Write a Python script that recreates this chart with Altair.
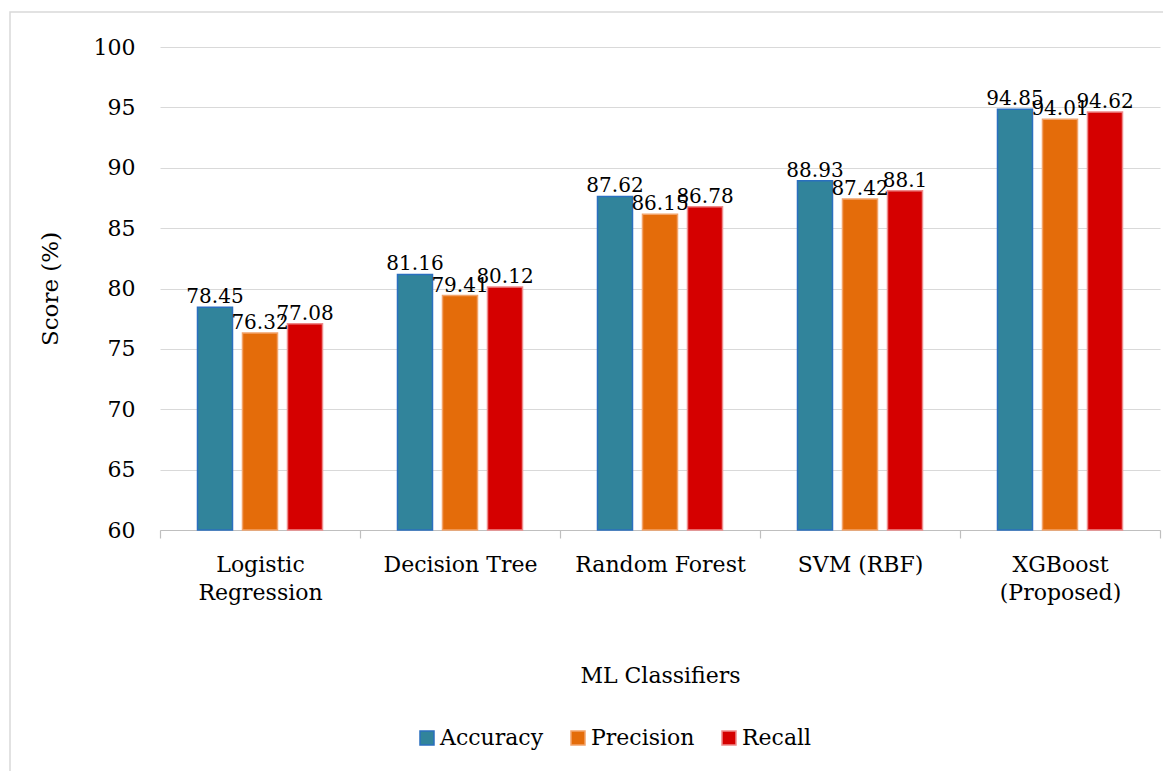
import altair as alt
import pandas as pd

classifiers = ["Logistic|Regression", "Decision Tree", "Random Forest", "SVM (RBF)", "XGBoost|(Proposed)"]
series = ["Accuracy", "Precision", "Recall"]
accuracy = [78.45, 81.16, 87.62, 88.93, 94.85]
precision = [76.32, 79.41, 86.15, 87.42, 94.01]
recall = [77.08, 80.12, 86.78, 88.1, 94.62]

fill_colors = ["#31849B", "#E46C0A", "#D50000"]
stroke_colors = ["#2A6FBF", "#F2A36A", "#EE8A8A"]

rows = []
for i, c in enumerate(classifiers):
    for s, vals in zip(series, [accuracy, precision, recall]):
        rows.append({"classifier": c, "series": s, "value": vals[i], "label": str(vals[i])})
df = pd.DataFrame(rows)

FONT = "DejaVu Serif"

x_enc = alt.X(
    "classifier:N",
    sort=classifiers,
    scale=alt.Scale(paddingInner=0, paddingOuter=0),
    axis=alt.Axis(
        title="ML Classifiers",
        labelAngle=0,
        labelExpr="isValid(datum.value) ? split(datum.value, '|') : ''",
        labelFontSize=22,
        labelLineHeight=28,
        labelPadding=16,
        labelColor="#000000",
        tickBand="extent",
        ticks=True,
        tickSize=8,
        tickColor="#BFBFBF",
        tickWidth=1.2,
        domainColor="#BFBFBF",
        domainWidth=1.2,
        grid=False,
        titleFontSize=22,
        titleFontWeight="normal",
        titleColor="#000000",
        titleY=145,
        titleBaseline="middle",
    ),
)
xoff_enc = alt.XOffset(
    "series:N",
    sort=series,
    scale=alt.Scale(domain=series, paddingInner=0.222, paddingOuter=0.833),
)
y_enc = alt.Y(
    "value:Q",
    stack=None,
    scale=alt.Scale(domain=[60, 100], zero=False, nice=False),
    axis=alt.Axis(
        title="Score (%)",
        values=[60, 65, 70, 75, 80, 85, 90, 95, 100],
        labelFontSize=22,
        labelPadding=25,
        labelColor="#000000",
        ticks=False,
        domain=False,
        grid=True,
        gridColor="#D9D9D9",
        gridWidth=1.2,
        titleFontSize=23,
        titleFontWeight="normal",
        titleColor="#000000",
        titleX=-110,
        titleY=241.5,
        titleBaseline="middle",
        titleAngle=270,
    ),
)

legend_cfg = dict(
    title=None,
    orient="none",
    direction="horizontal",
    legendX=256,
    legendY=680,
    symbolType="square",
    symbolSize=196,
    symbolStrokeWidth=1.5,
    labelFontSize=22,
    labelColor="#000000",
    labelOffset=2,
    columnPadding=23,
)

border = alt.Chart(pd.DataFrame({"a": [0]})).mark_rect(
    fillOpacity=0, stroke="#D9D9D9", strokeWidth=1.5
).encode(
    x=alt.value(-150), x2=alt.value(1010), y=alt.value(-35), y2=alt.value(740)
)

bars = alt.Chart(df).mark_bar(strokeWidth=1.5).encode(
    x=x_enc,
    xOffset=xoff_enc,
    y=y_enc,
    y2=alt.datum(60),
    fill=alt.Fill(
        "series:N",
        sort=series,
        scale=alt.Scale(domain=series, range=fill_colors),
        legend=alt.Legend(**legend_cfg),
    ),
    stroke=alt.Stroke(
        "series:N",
        sort=series,
        scale=alt.Scale(domain=series, range=stroke_colors),
        legend=alt.Legend(**legend_cfg),
    ),
)

text = alt.Chart(df).mark_text(
    fontSize=20, dy=-4, baseline="alphabetic", align="center", color="#000000"
).encode(
    x=alt.X("classifier:N", sort=classifiers),
    xOffset=alt.XOffset("series:N", sort=series),
    y=alt.Y("value:Q"),
    text="label:N",
)

chart = alt.layer(border, bars, text).properties(
    width=1000,
    height=483,
    autosize=alt.AutoSizeParams(type="none"),
    padding={"left": 160, "top": 47, "right": 3, "bottom": 241},
).configure(
    font=FONT,
    background="#FFFFFF",
).configure_view(
    stroke=None
)

chart.save("out.html", embed_options={"renderer": "svg", "actions": False})
